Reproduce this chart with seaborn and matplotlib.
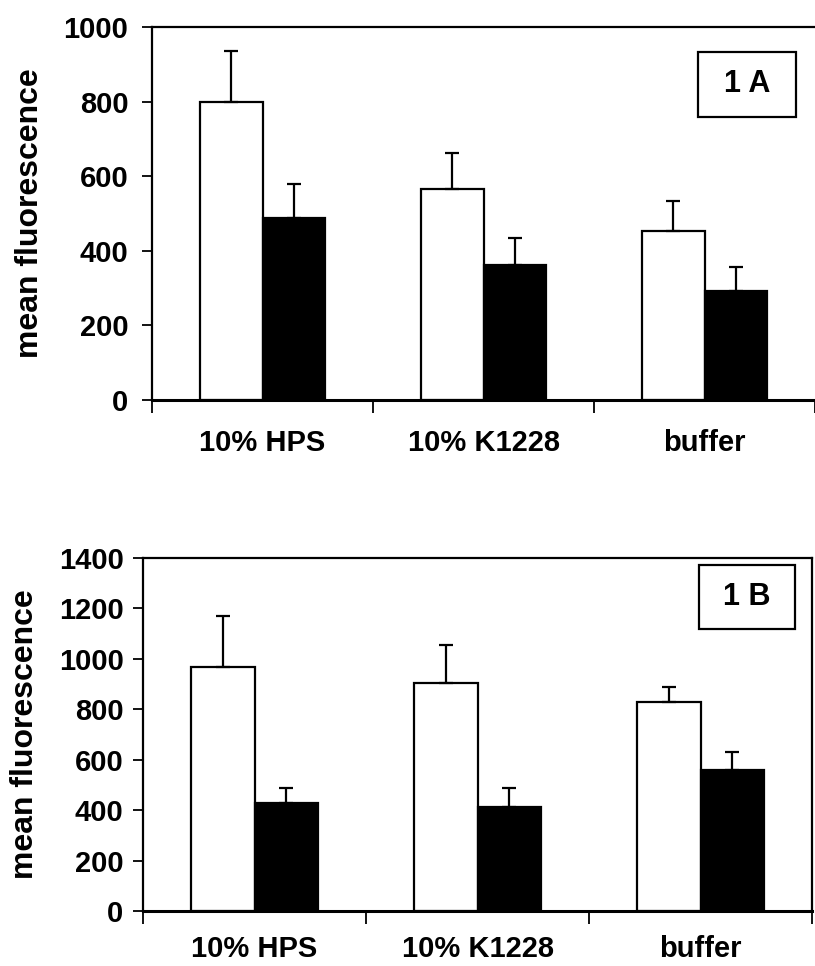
import numpy as np
import pandas as pd
import matplotlib
matplotlib.use("Agg")
import matplotlib.pyplot as plt
import seaborn as sns
from matplotlib.patches import Rectangle

categories = ["10% HPS", "10% K1228", "buffer"]
conditions = ["open", "filled"]

a_open = [800, 567, 454]
a_open_err = [135, 94, 80]
a_filled = [489, 362, 292]
a_filled_err = [91, 73, 65]

b_open = [967, 904, 828]
b_open_err = [203, 150, 60]
b_filled = [430, 414, 560]
b_filled_err = [58, 74, 70]

a_ticks = [0, 200, 400, 600, 800, 1000]
b_ticks = [0, 200, 400, 600, 800, 1000, 1200, 1400]

sns.set_theme(style="white")
plt.rcParams['font.family'] = ['Liberation Sans', 'DejaVu Sans']
plt.rcParams['font.weight'] = 'bold'
plt.rcParams['text.color'] = 'black'
plt.rcParams['xtick.color'] = 'black'
plt.rcParams['ytick.color'] = 'black'
plt.rcParams['axes.labelcolor'] = 'black'

W, H = 815, 966
fig = plt.figure(figsize=(W / 100, H / 100), dpi=100)
fig.patch.set_facecolor("white")


def make_df(op, fi):
    rows = []
    for c, v in zip(categories, op):
        rows.append((c, "open", v))
    for c, v in zip(categories, fi):
        rows.append((c, "filled", v))
    return pd.DataFrame(rows, columns=["group", "condition", "value"])


def panel(rect, op, op_err, fi, fi_err, ticks, label, box, ylab_x, right_spine, ypad, xpad):
    ax = fig.add_axes(rect)
    df = make_df(op, fi)
    sns.barplot(data=df, x="group", y="value", hue="condition",
                hue_order=conditions, order=categories,
                palette={"open": "white", "filled": "black"},
                edgecolor="black", linewidth=1.6, width=0.57,
                errorbar=None, legend=False, ax=ax, saturation=1)
    errs = [op_err, fi_err]
    for cont, err in zip(ax.containers, errs):
        for bar, e in zip(cont, err):
            xc = bar.get_x() + bar.get_width() / 2
            h = bar.get_height()
            ax.errorbar([xc], [h], yerr=[[0], [e]], fmt="none",
                        ecolor="black", elinewidth=1.6, capsize=5,
                        capthick=1.6, zorder=5)
    ax.set_xlim(-0.5, 2.5)
    ax.set_ylim(ticks[0], ticks[-1])
    ax.set_yticks(ticks)
    ax.set_yticklabels([str(t) for t in ticks], fontsize=21, fontweight="bold",
                       color="black")
    ax.set_xticks([-0.5, 0.5, 1.5, 2.5])
    ax.set_xticklabels([])
    ax.set_xticks([0, 1, 2], minor=True)
    ax.set_xticklabels(categories, minor=True, fontsize=21, fontweight="bold",
                       color="black")
    ax.tick_params(axis="x", which="major", direction="out", length=9,
                   width=1.3, color="black", bottom=True)
    ax.tick_params(axis="x", which="minor", length=0, pad=xpad, bottom=True)
    ax.tick_params(axis="y", direction="out", length=7, width=1.3,
                   color="black", left=True, pad=ypad)
    ax.set_xlabel("")
    ax.set_ylabel("")
    for s in ["left", "bottom", "top", "right"]:
        ax.spines[s].set_color("black")
        ax.spines[s].set_linewidth(1.6)
    ax.spines["right"].set_visible(right_spine)
    ax.spines["bottom"].set_linewidth(2.2)
    ax.set_facecolor("white")
    ax.grid(False)
    # y label
    yc = rect[1] + rect[3] / 2
    fig.text(ylab_x / W, yc, "mean fluorescence", rotation=90,
             ha="center", va="center", fontsize=23, fontweight="bold",
             color="black")
    # label box
    x0, y0, x1, y1 = box
    fig.patches.append(Rectangle((x0 / W, 1 - y1 / H), (x1 - x0) / W,
                                 (y1 - y0) / H, transform=fig.transFigure,
                                 facecolor="white", edgecolor="black",
                                 linewidth=1.6, zorder=10))
    fig.text((x0 + x1) / 2 / W, 1 - ((y0 + y1) / 2) / H, label,
             ha="center", va="center", fontsize=22, fontweight="bold",
             color="black", zorder=11)
    return ax


# panel A: left 152, right 815, top 27, bottom 400
panel([152 / W, 1 - 400 / H, (815 - 152) / W, (400 - 27) / H],
      a_open, a_open_err, a_filled, a_filled_err, a_ticks, "1 A",
      (698, 52, 796, 117), 30, False, 10, 21)
# panel B: left 143, right 812, top 558, bottom 911
panel([143 / W, 1 - 911 / H, (812 - 143) / W, (911 - 558) / H],
      b_open, b_open_err, b_filled, b_filled_err, b_ticks, "1 B",
      (699, 565, 795, 629), 25, True, 7, 17)

fig.savefig("out.png", dpi=100, facecolor="white")
